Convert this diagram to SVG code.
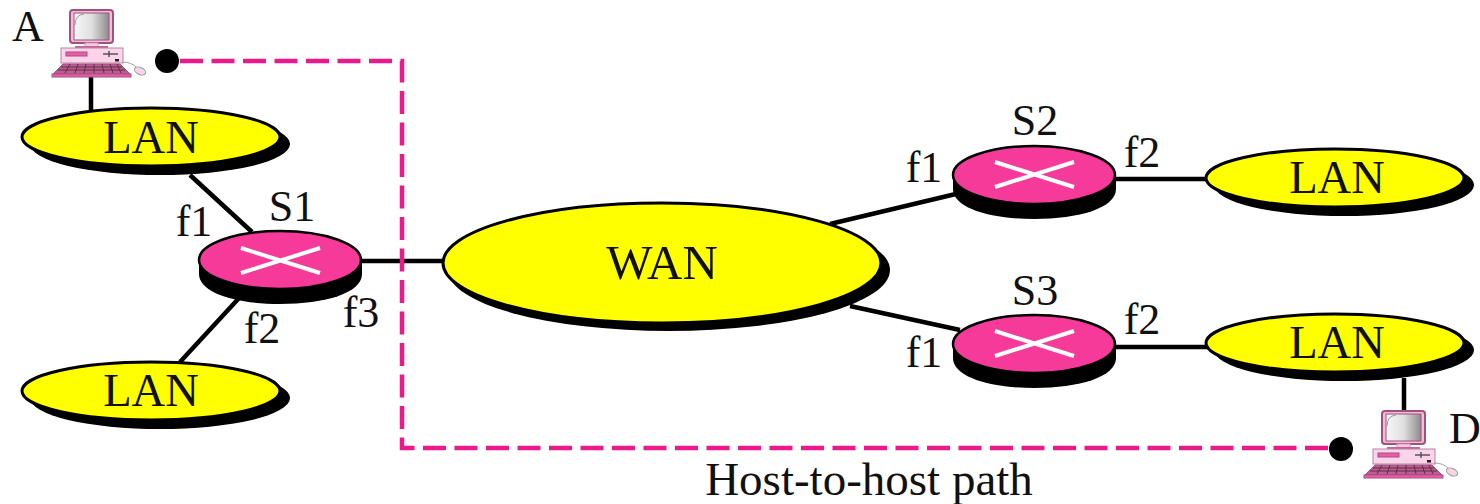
<svg xmlns="http://www.w3.org/2000/svg" width="1480" height="504" viewBox="0 0 1480 504">
<style>
text{font-family:"Liberation Serif","Times New Roman",serif;font-size:44px;fill:#111;text-anchor:middle}
.big{font-size:46.500px}
.wan{font-size:49px}
.host{font-size:47px}
.c{stroke:#000;stroke-width:4.500;fill:none}
.sh{fill:#000}
.l{fill:#ffff00;stroke:#000;stroke-width:3}
.sw{fill:#f53a9a;stroke:#000;stroke-width:2.500}
.x{stroke:#fff;stroke-width:4;fill:none}
.p{stroke:#ea1a8c;stroke-width:4.500;fill:none;stroke-dasharray:23 8.500}
</style>
<defs>
<linearGradient id="scr" x1="0" x2="1" y1="0" y2="0"><stop offset="0" stop-color="#f6f6f6"/><stop offset="0.5" stop-color="#e0e0e0"/><stop offset="1" stop-color="#8c8c8c"/></linearGradient>
<g id="pc">
<rect x="20" y="10" width="43" height="33" rx="3" fill="#f3bcd8" stroke="#a0527f" stroke-width="2"/>
<rect x="24" y="13" width="35" height="27" fill="url(#scr)" stroke="#a0527f" stroke-width="1"/>
<path d="M25 25Q25 15 34 14" fill="none" stroke="#999" stroke-width="1"/>
<rect x="35" y="43" width="13" height="4" fill="#fbc8e4" stroke="#d49abb" stroke-width="1"/>
<rect x="25" y="46" width="33" height="2" fill="#c9639c"/>
<rect x="11" y="48" width="62" height="15" fill="#fcd3ea" stroke="#b08aa0" stroke-width="1"/>
<rect x="16" y="52" width="21" height="4" fill="#ee5aa8" stroke="#a0527f" stroke-width="1"/>
<path d="M53 54H68M59 51V57" stroke="#555" stroke-width="1.500" fill="none"/>
<rect x="65" y="59" width="4" height="2.500" fill="#222"/>
<path d="M3 74L13 64H70L80 74Z" fill="#c05a92" stroke="#a0527f"/>
<path d="M11 67H72M8 70H75M20 64L15 73M28 64L25 73M36 64L34 73M44 64L44 73M52 64L54 73M60 64L63 73M67 64L71 73" stroke="#5a3048" stroke-width="1" fill="none"/>
<rect x="2" y="74" width="79" height="3" fill="#ee5aa8" stroke="#a0527f" stroke-width="1"/>
<path d="M72 62Q82 62 87 68" stroke="#a0a0a0" fill="none"/>
<ellipse cx="90" cy="71" rx="6" ry="3.500" transform="rotate(25 90 71)" fill="#f5d5e5" stroke="#999"/>
</g>
</defs>
<g id="connectors">
<path class="c" d="M91 76V112M190 175L252 232M240 297L180 362M360 261H445M830 224L960 193M850 306L960 330M1112 179H1210M1112 347H1210M1404 378V414"/>
<path class="p" d="M180 61H402V448H1330"/>
</g>
<g id="pcA"><use href="#pc" x="50" y="0"/></g>
<g id="pcD"><use href="#pc" x="1362" y="401"/></g>
<circle id="dotA" cx="167" cy="61" r="12" fill="#000"/>
<circle id="dotD" cx="1341" cy="449" r="12" fill="#000"/>
<g id="lan1"><ellipse class="sh" cx="160" cy="144" rx="130" ry="31"/><ellipse class="l" cx="151" cy="137" rx="129" ry="29"/><text class="big" x="151" y="153">LAN</text></g>
<g id="lan2"><ellipse class="sh" cx="160" cy="398" rx="130" ry="31"/><ellipse class="l" cx="151" cy="391" rx="129" ry="29"/><text class="big" x="151" y="406">LAN</text></g>
<g id="lan3"><ellipse class="sh" cx="1344" cy="185" rx="130" ry="31"/><ellipse class="l" cx="1335" cy="178" rx="129" ry="29"/><text class="big" x="1337" y="193">LAN</text></g>
<g id="lan4"><ellipse class="sh" cx="1344" cy="350" rx="130" ry="31"/><ellipse class="l" cx="1335" cy="343" rx="129" ry="29"/><text class="big" x="1337" y="358">LAN</text></g>
<g id="wan"><ellipse class="sh" cx="669" cy="270" rx="221" ry="61"/><ellipse class="l" cx="662" cy="263" rx="219" ry="60"/><text class="wan" x="662" y="279">WAN</text></g>
<g id="s1"><path class="sh" d="M199 260V274C199 293 236 304 280 304C325 304 362 293 362 274V260Z"/><ellipse class="sw" cx="280" cy="260" rx="81" ry="29"/><path class="x" d="M241 248L320 273M241 273L320 248"/><text x="292" y="221">S1</text></g>
<g id="s2"><path class="sh" d="M953 175V189C953 208 990 219 1034 219C1079 219 1116 208 1116 189V175Z"/><ellipse class="sw" cx="1034" cy="175" rx="81" ry="29"/><path class="x" d="M995 162L1074 187M995 187L1074 162"/><text x="1035" y="135">S2</text></g>
<g id="s3"><path class="sh" d="M953 344V358C953 377 990 388 1034 388C1079 388 1116 377 1116 358V344Z"/><ellipse class="sw" cx="1034" cy="344" rx="81" ry="29"/><path class="x" d="M995 331L1074 356M995 356L1074 331"/><text x="1035" y="305">S3</text></g>
<g id="labels">
<text x="28" y="41">A</text>
<text x="1465" y="443">D</text>
<text x="194" y="236">f1</text>
<text x="262" y="343">f2</text>
<text x="361" y="327">f3</text>
<text x="924" y="182">f1</text>
<text x="1142" y="167">f2</text>
<text x="924" y="367">f1</text>
<text x="1142" y="334">f2</text>
<text class="host" x="869" y="495">Host-to-host path</text>
</g>
</svg>
